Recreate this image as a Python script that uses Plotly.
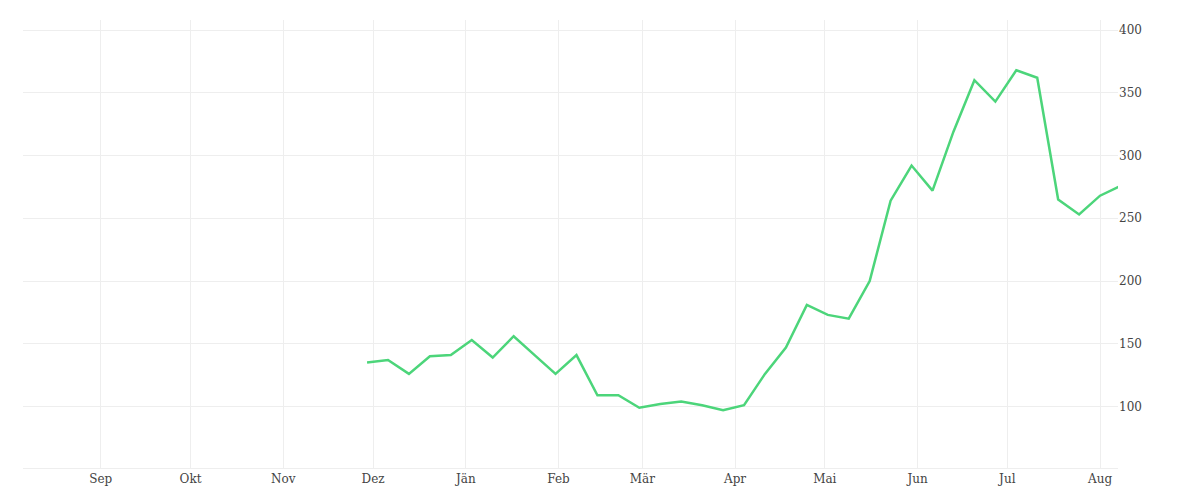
import plotly.graph_objects as go
import pandas as pd

dates = pd.date_range("2020-11-29", periods=37, freq="7D")
values = [135, 137, 126, 140, 141, 153, 139, 156, 141, 126, 141, 109, 109, 99, 102, 104,
          101, 97, 101, 126, 147, 181, 173, 170, 200, 264, 292, 272, 319, 360, 343, 368,
          362, 265, 253, 268, 276]
tick_vals = pd.date_range("2020-09-01", periods=12, freq="MS")
tick_text = ["Sep", "Okt", "Nov", "Dez", "Jän", "Feb", "Mär", "Apr", "Mai", "Jun", "Jul", "Aug"]

fig = go.Figure(go.Scatter(x=dates, y=values, mode="lines",
                           line=dict(color="#4cd57a", width=2.5), hoverinfo="x+y"))
fig.update_layout(
    width=1200, height=500, paper_bgcolor="white", plot_bgcolor="white",
    margin=dict(l=15, r=90, t=12, b=40), showlegend=False,
    font=dict(family="DejaVu Serif", size=12, color="#444"),
    xaxis=dict(range=["2020-08-06", "2021-08-07"], tickvals=tick_vals, ticktext=tick_text,
               showgrid=True, gridcolor="#eeeeee", zeroline=False, showline=True, linecolor="#eeeeee",
               ticks=""),
    yaxis=dict(side="right", range=[51, 408], tickvals=[100, 150, 200, 250, 300, 350, 400],
               showgrid=True, gridcolor="#eeeeee", zeroline=False, ticks=""),
)
fig.write_html("out.html")
